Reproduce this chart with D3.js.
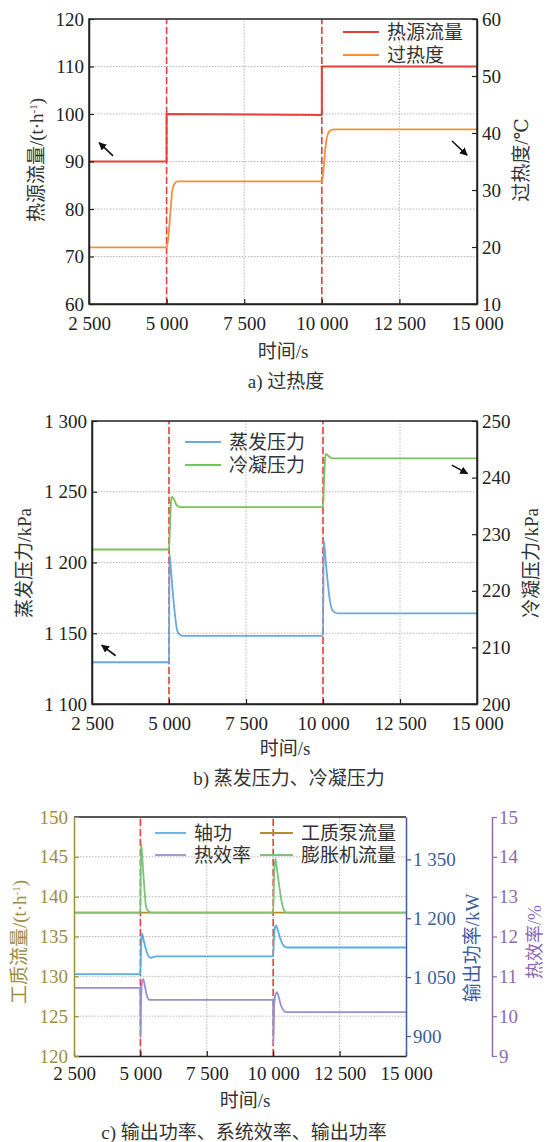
<!DOCTYPE html>
<html>
<head>
<meta charset="utf-8">
<script src="https://cdn.jsdelivr.net/npm/d3@7"></script>
<style>
  body { margin: 0; background: #fff; }
  svg { display: block; }
  svg text { font-family: "Liberation Serif", "Times New Roman", Tinos, "DejaVu Serif", "Noto Sans CJK SC", serif; }
</style>
</head>
<body>
<svg id="chart"></svg>
<script>
// ---- shared ----
const timeTicks = [2500, 5000, 7500, 10000, 12500, 15000];
const stepTimes = [5000, 10000];

// ---- a) 过热度 ----
const aLeftTicks = [60, 70, 80, 90, 100, 110, 120];
const aRightTicks = [10, 20, 30, 40, 50, 60];
const aNames = ["热源流量", "过热度"];
const heatT = [2500, 5000, 5000, 10000, 10000, 15000];
const heatV = [90, 90, 100, 99.8, 110, 110];
const superT = [2500, 5000, 5030, 5086, 5130, 5172, 5215, 5270, 5330, 5400,
                10000, 10020, 10054, 10107, 10161, 10210, 10268, 10350, 10430, 15000];
const superV = [19.95, 19.95, 20.6, 23.6, 26.5, 29.4, 30.6, 31.2, 31.45, 31.5,
                31.5, 31.9, 33.5, 37.0, 39.1, 40.0, 40.4, 40.6, 40.65, 40.65];
// arrows [t1, v1, t2, v2] (left axis / right axis)
const aArrowLeft = [3274, 91.2, 2826, 93.96];
const aArrowRight = [14197, 38.6, 14681, 36.1];

// ---- b) 蒸发压力、冷凝压力 ----
const bLeftTicks = [1100, 1150, 1200, 1250, 1300];
const bRightTicks = [200, 210, 220, 230, 240, 250];
const bNames = ["蒸发压力", "冷凝压力"];
const evapT = [2500, 5000, 5015, 5060, 5110, 5160, 5210, 5250, 5300, 5380, 5450,
               10000, 10025, 10080, 10140, 10200, 10260, 10310, 10400, 10500, 15000];
const evapV = [1129.5, 1129.5, 1206, 1196, 1182, 1170, 1160, 1153.5, 1150.3, 1148.6, 1148.2,
               1148.2, 1215.5, 1203, 1189, 1177, 1169, 1166, 1164.5, 1164, 1164];
const condT = [2500, 5000, 5030, 5070, 5100, 5160, 5230, 5300, 5360,
               10000, 10030, 10070, 10100, 10160, 10230, 10330, 15000];
const condV = [227.3, 227.3, 231, 236, 236.6, 236.2, 235.3, 234.9, 234.8,
               234.8, 238.5, 243.5, 244.2, 243.9, 243.6, 243.4, 243.4];
const bArrowLeft = [3266, 1134.1, 2815, 1141.6];
const bArrowRight = [14183, 242.2, 14692, 240.7];

// ---- c) 输出功率、系统效率 ----
const cLeftTicks = [120, 125, 130, 135, 140, 145, 150];
const cPowerTicks = [900, 1050, 1200, 1350];
const cEffTicks = [9, 10, 11, 12, 13, 14, 15];
const cNames = ["轴功", "工质泵流量", "热效率", "膨胀机流量"];
const pumpT = [2500, 15000];
const pumpV = [138, 138];
const expT = [2500, 5000, 5025, 5060, 5100, 5150, 5200, 5250, 5330, 5430,
              10000, 10040, 10080, 10150, 10230, 10310, 10380, 10450, 10500, 15000];
const expV = [138, 138, 146.7, 145.5, 143.5, 141, 139, 138.4, 138.1, 138,
              138, 143, 144.8, 143.2, 141.3, 139.5, 138.5, 138.1, 138, 138];
const shaftT = [2500, 5000, 5020, 5045, 5065, 5120, 5180, 5250, 5320, 5400, 5480, 5600,
                10000, 10030, 10070, 10110, 10180, 10260, 10340, 10420, 10520, 15000];
const shaftV = [1057.6, 1057.6, 1110, 1150, 1161, 1145, 1128, 1112, 1102, 1099, 1101, 1103,
                1103, 1150, 1178, 1182, 1168, 1150, 1136, 1128, 1125.5, 1125.5];
const effT = [2500, 5000, 5008, 5030, 5070, 5110, 5170, 5230, 5290, 5350,
              10000, 10008, 10040, 10090, 10140, 10200, 10280, 10360, 10450, 10550, 15000];
const effV = [10.71, 10.71, 9.45, 10.5, 10.88, 10.93, 10.75, 10.55, 10.44, 10.41,
              10.41, 9.3, 10.3, 10.55, 10.6, 10.5, 10.3, 10.17, 10.11, 10.1, 10.1];

// ---- drawing ----
const FS = 19;
const TXT = "#333";
const RED = "#e5413b";
const fmt = v => d3.format(",")(v).replace(/,/g, " ");

const svg = d3.select("#chart").attr("width", 547).attr("height", 1142);
svg.append("rect").attr("width", 547).attr("height", 1142).attr("fill", "#fff");

const defs = svg.append("defs");
defs.append("marker").attr("id", "arr")
  .attr("viewBox", "0 0 10 10").attr("refX", 9).attr("refY", 5)
  .attr("markerWidth", 5).attr("markerHeight", 5).attr("orient", "auto")
  .append("path").attr("d", "M0,0L10,5L0,10Z").attr("fill", "#111");

function pts(ts, vs) { return ts.map((t, i) => [t, vs[i]]); }

function drawLine(x, y, ts, vs, color, w, curve) {
  svg.append("path").datum(pts(ts, vs))
    .attr("fill", "none").attr("stroke", color).attr("stroke-width", w)
    .attr("stroke-linejoin", "round")
    .attr("d", d3.line().x(d => x(d[0])).y(d => y(d[1])).curve(curve || d3.curveMonotoneX));
}

function styleAxis(g, color) {
  g.attr("font-size", FS).attr("font-family", null);
  g.selectAll(".tick line").attr("stroke", color).attr("stroke-width", 1.2);
  g.selectAll(".tick text").attr("fill", color);
  g.select(".domain").attr("stroke", color).attr("stroke-width", 1.5);
}

function grid(x, y, yTicks) {
  const [x0, x1] = x.range();
  const [y0, y1] = y.range();
  svg.append("g").selectAll("line").data(yTicks.filter(v => v !== y.domain()[0] && v !== y.domain()[1]))
    .join("line").attr("x1", x0).attr("x2", x1).attr("y1", d => y(d)).attr("y2", d => y(d))
    .attr("stroke", "#b8b8b8").attr("stroke-dasharray", "1.5,1.5");
  svg.append("g").selectAll("line").data(timeTicks.slice(1, -1))
    .join("line").attr("x1", d => x(d)).attr("x2", d => x(d)).attr("y1", y0).attr("y2", y1)
    .attr("stroke", "#b8b8b8").attr("stroke-dasharray", "1.5,1.5");
}

function stepMarks(x, y) {
  const [y0, y1] = y.range();
  svg.append("g").selectAll("line").data(stepTimes).join("line")
    .attr("x1", d => x(d)).attr("x2", d => x(d)).attr("y1", y0).attr("y2", y1)
    .attr("stroke", RED).attr("stroke-width", 1.6).attr("stroke-dasharray", "7,3");
}

function xAxis(x, yBottom, pad, color) {
  const g = svg.append("g").attr("transform", `translate(0,${yBottom})`)
    .call(d3.axisBottom(x).tickValues(timeTicks).tickFormat(fmt)
      .tickSizeInner(-5).tickSizeOuter(0).tickPadding(pad));
  styleAxis(g, "#222");
  g.select(".domain").attr("stroke", color || "#222");
}

function label(text, x, y, color, rotate, size) {
  const t = svg.append("text").attr("x", x).attr("y", y).attr("fill", color || TXT)
    .attr("font-size", size || FS).attr("text-anchor", "middle").attr("dy", "0.35em");
  if (rotate) t.attr("transform", `rotate(-90,${x},${y})`);
  return t.text(text);
}

function unitLabel(prefix, x, y, color) {
  const t = svg.append("text").attr("x", x).attr("y", y).attr("fill", color)
    .attr("font-size", FS).attr("text-anchor", "middle").attr("dy", "0.35em")
    .attr("transform", `rotate(-90,${x},${y})`);
  t.append("tspan").text(prefix + "/(t·h");
  t.append("tspan").attr("font-size", 11).attr("baseline-shift", "super").text("-1");
  t.append("tspan").text(")");
}

function arrow(x, y, a) {
  svg.append("line").attr("x1", x(a[0])).attr("y1", y(a[1])).attr("x2", x(a[2])).attr("y2", y(a[3]))
    .attr("stroke", "#111").attr("stroke-width", 1.6).attr("marker-end", "url(#arr)");
}

function legendRow(x1, x2, y, name, color) {
  svg.append("line").attr("x1", x1).attr("x2", x2).attr("y1", y).attr("y2", y)
    .attr("stroke", color).attr("stroke-width", 1.8);
  svg.append("text").attr("x", x2 + 8).attr("y", y).attr("dy", "0.35em")
    .attr("font-size", FS).attr("fill", TXT).text(name);
}

// ===== panel a =====
{
  const x = d3.scaleLinear().domain([2500, 15000]).range([89, 477]);
  const yL = d3.scaleLinear().domain([60, 120]).range([304, 19]);
  const yR = d3.scaleLinear().domain([10, 60]).range([304, 19]);
  const colors = [RED, "#f0913a"];

  grid(x, yL, aLeftTicks);
  stepMarks(x, yL);
  drawLine(x, yR, superT, superV, colors[1], 1.8);
  drawLine(x, yL, heatT, heatV, colors[0], 2, d3.curveLinear);

  svg.append("rect").attr("x", 89).attr("y", 19).attr("width", 388).attr("height", 285)
    .attr("fill", "none").attr("stroke", "#222").attr("stroke-width", 1.5);

  const gl = svg.append("g").attr("transform", "translate(89,0)")
    .call(d3.axisLeft(yL).tickValues(aLeftTicks).tickSizeInner(-5).tickSizeOuter(0).tickPadding(5));
  styleAxis(gl, "#222");
  const gr = svg.append("g").attr("transform", "translate(477,0)")
    .call(d3.axisRight(yR).tickValues(aRightTicks).tickSizeInner(-5).tickSizeOuter(0).tickPadding(5));
  styleAxis(gr, "#222");
  xAxis(x, 304, 13);

  arrow(x, yL, aArrowLeft);
  arrow(x, yR, aArrowRight);

  legendRow(343, 379, 32, aNames[0], colors[0]);
  legendRow(343, 379, 55, aNames[1], colors[1]);

  unitLabel("热源流量", 36, 160, TXT);
  label("过热度/℃", 521, 160, TXT, true);
  label("时间/s", 283, 351);
  label("a) 过热度", 286, 381);
}

// ===== panel b =====
{
  const x = d3.scaleLinear().domain([2500, 15000]).range([92, 477]);
  const yL = d3.scaleLinear().domain([1100, 1300]).range([704, 421]);
  const yR = d3.scaleLinear().domain([200, 250]).range([704, 421]);
  const colors = ["#6aa8df", "#7cc25a"];

  grid(x, yL, bLeftTicks);
  stepMarks(x, yL);
  drawLine(x, yR, condT, condV, colors[1], 1.8);
  drawLine(x, yL, evapT, evapV, colors[0], 1.8);

  svg.append("rect").attr("x", 92).attr("y", 421).attr("width", 385).attr("height", 283)
    .attr("fill", "none").attr("stroke", "#222").attr("stroke-width", 1.5);

  const gl = svg.append("g").attr("transform", "translate(92,0)")
    .call(d3.axisLeft(yL).tickValues(bLeftTicks).tickFormat(fmt).tickSizeInner(-5).tickSizeOuter(0).tickPadding(5));
  styleAxis(gl, "#222");
  const gr = svg.append("g").attr("transform", "translate(477,0)")
    .call(d3.axisRight(yR).tickValues(bRightTicks).tickSizeInner(-5).tickSizeOuter(0).tickPadding(5));
  styleAxis(gr, "#222");
  xAxis(x, 704, 13);

  arrow(x, yL, bArrowLeft);
  arrow(x, yR, bArrowRight);

  legendRow(185, 221, 442, bNames[0], colors[0]);
  legendRow(185, 221, 465, bNames[1], colors[1]);

  label("蒸发压力/kPa", 24, 563, TXT, true);
  label("冷凝压力/kPa", 531, 563, TXT, true);
  label("时间/s", 285, 748);
  label("b) 蒸发压力、冷凝压力", 289, 778);
}

// ===== panel c =====
{
  const x = d3.scaleLinear().domain([2500, 15000]).range([74, 406]);
  const yF = d3.scaleLinear().domain([120, 150]).range([1056, 817]);
  const yP = d3.scaleLinear().domain([849, 1458]).range([1056, 817]);
  const yE = d3.scaleLinear().domain([9, 15]).range([1056, 817]);
  const OLIVE = "#a08c42", BLUE = "#3d5c9c", PURPLE = "#8c6bb1";
  const colors = ["#5aaee2", "#b08f2a", "#9a8fd0", "#7cc27a"];

  grid(x, yF, cLeftTicks);
  stepMarks(x, yF);
  drawLine(x, yF, pumpT, pumpV, colors[1], 1.8, d3.curveLinear);
  drawLine(x, yF, expT, expV, colors[3], 1.8);
  drawLine(x, yP, shaftT, shaftV, colors[0], 1.8);
  drawLine(x, yE, effT, effV, colors[2], 1.8);

  svg.append("line").attr("x1", 74).attr("x2", 406).attr("y1", 817).attr("y2", 817)
    .attr("stroke", "#222").attr("stroke-width", 1.5);

  xAxis(x, 1056, 11);

  const gl = svg.append("g").attr("transform", "translate(74,0)")
    .call(d3.axisLeft(yF).tickValues(cLeftTicks).tickSizeInner(-5).tickSizeOuter(0).tickPadding(6));
  styleAxis(gl, OLIVE);
  const gp = svg.append("g").attr("transform", "translate(406,0)")
    .call(d3.axisRight(yP).tickValues(cPowerTicks).tickFormat(fmt).tickSizeInner(5).tickSizeOuter(0).tickPadding(2));
  styleAxis(gp, BLUE);
  const ge = svg.append("g").attr("transform", "translate(492,0)")
    .call(d3.axisRight(yE).tickValues(cEffTicks).tickFormat(d3.format("d")).tickSizeInner(5).tickSizeOuter(0).tickPadding(2));
  styleAxis(ge, PURPLE);

  legendRow(155, 186, 833, cNames[0], colors[0]);
  legendRow(260, 293, 833, cNames[1], colors[1]);
  legendRow(155, 186, 855, cNames[2], colors[2]);
  legendRow(260, 293, 855, cNames[3], colors[3]);

  unitLabel("工质流量", 19, 942, OLIVE);
  label("输出功率/kW", 472, 948, BLUE, true);
  label("热效率/%", 535, 942, PURPLE, true, 18);
  label("时间/s", 245, 1100);
  label("c) 输出功率、系统效率、输出功率", 244, 1132);
}
</script>
</body>
</html>
